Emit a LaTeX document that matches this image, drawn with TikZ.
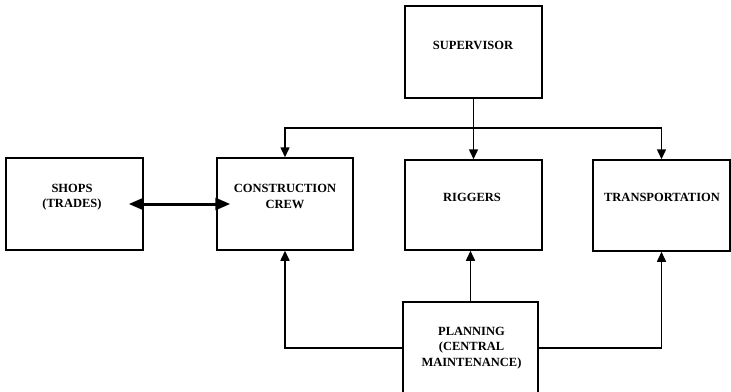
\documentclass[tikz,border=0pt]{standalone}
\usepackage{fontspec}
\setmainfont{Liberation Serif}
\usetikzlibrary{arrows.meta,calc}
\begin{document}
\begin{tikzpicture}[x=1pt,y=-1pt,
  box/.style={draw,line width=1.5pt,rectangle,inner sep=0pt},
  lbl/.style={font=\bfseries\fontsize{12.5}{15.5}\selectfont,align=center,inner sep=0pt},
  conn/.style={line width=1.5pt},
  arr/.style={conn,-{Triangle[length=10pt,width=9pt]}},
  darr/.style={line width=3pt,{Triangle[length=15pt,width=12pt]}-{Triangle[length=15pt,width=12pt]},
               shorten <=-15pt,shorten >=-14pt}]
\useasboundingbox (0,0) rectangle (731,391);
\clip (0,0) rectangle (731,391);
% boxes
\node[box,minimum width=137pt,minimum height=92pt] (sup) at (473.5,52) {};
\node[box,minimum width=137pt,minimum height=92pt] (shops) at (74.5,204) {};
\node[box,minimum width=136pt,minimum height=92pt] (crew) at (285,204) {};
\node[box,minimum width=137pt,minimum height=90pt] (rig) at (473.5,205) {};
\node[box,minimum width=137pt,minimum height=91pt] (trans) at (661.5,205.5) {};
\node[box,minimum width=135pt,minimum height=92pt] (plan) at (470.5,348) {};
% labels
\node[lbl] (tsup) at (473,45) {SUPERVISOR};
\node[lbl] (tshops) at (72,197) {SHOPS\\(TRADES)};
\node[lbl] (tcrew) at (285,196.5) {CONSTRUCTION\\CREW};
\node[lbl] (trig) at (472,197) {RIGGERS};
\node[lbl] (ttrans) at (662,197) {TRANSPORTATION};
\node[lbl] (tplan) at (471.5,348) {PLANNING\\(CENTRAL\\MAINTENANCE)};
% connectors
\coordinate (bus) at (473.5,128);
\draw[conn] (sup.south) -- (bus);
\draw[arr] (bus) -| (crew.north);
\draw[arr] (bus) -| (trans.north);
\draw[arr] (bus) -- (rig.north);
\draw[arr] (plan.north) -- (plan.north |- rig.south);
\draw[arr] (plan.west) -| (crew.south);
\draw[arr] (plan.east) -| (trans.south);
\draw[darr] (shops.east) -- (crew.west);
\end{tikzpicture}
\end{document}
